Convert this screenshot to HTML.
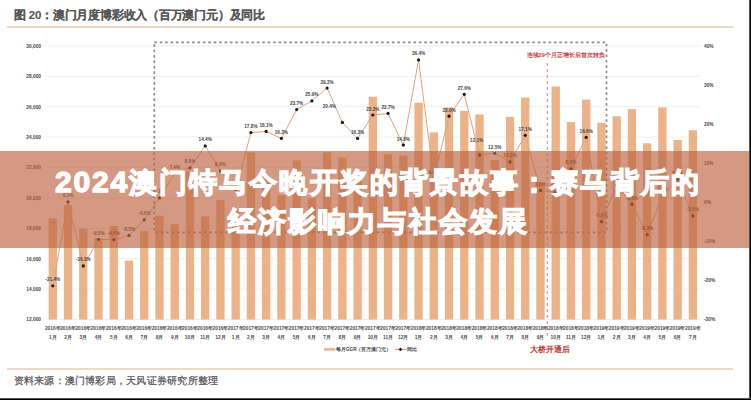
<!DOCTYPE html>
<html><head><meta charset="utf-8">
<style>
html,body{margin:0;padding:0;}
body{width:751px;height:400px;position:relative;overflow:hidden;background:#fff;font-family:"Liberation Sans",sans-serif;}
#frame{position:absolute;left:0;top:0;width:749px;height:398px;background:#fff;}
.bk-r{position:absolute;left:749px;top:0;width:2px;height:400px;background:linear-gradient(to right,#555 0,#555 1px,#000 1px);}
.bk-b{position:absolute;left:0;top:398px;width:751px;height:2px;background:linear-gradient(to bottom,#555 0,#555 1px,#000 1px);}
.title{position:absolute;left:14px;top:8px;font-size:11.5px;letter-spacing:-0.22px;font-weight:bold;color:#555;-webkit-text-stroke:0.1px #555;white-space:nowrap;}
.hl{position:absolute;left:6.5px;width:726.5px;height:2px;background:#ecd9c8;}
.src{position:absolute;left:13.6px;top:373.8px;font-size:10.4px;letter-spacing:0.23px;color:#555;-webkit-text-stroke:0.25px #555;white-space:nowrap;}
svg{position:absolute;left:0;top:0;}
.ax{font-size:4.8px;fill:#444;font-weight:bold;}
.lb{font-size:4.7px;fill:#444;font-weight:bold;}
.xl{font-size:4.8px;fill:#4a4a4a;font-weight:bold;}
.lg{font-size:4.6px;fill:#444;font-weight:bold;}
.red{font-size:5.6px;fill:#c8403c;font-weight:bold;}
.bridge{font-size:8.4px;fill:#c0392b;font-weight:bold;}
.band{position:absolute;left:0;top:151px;width:749px;height:97px;background:rgba(187,98,63,0.65);}
.bt{position:absolute;color:#fff;font-weight:bold;-webkit-text-stroke:1.3px #fff;font-size:28px;letter-spacing:2.1px;line-height:39px;white-space:nowrap;}
.bt .d{font-size:30px;letter-spacing:1.8px;}
</style></head><body>
<div id="frame"></div>
<div class="title">图 20：澳门月度博彩收入（百万澳门元）及同比</div>
<div class="hl" style="top:26.4px"></div>
<svg width="751" height="400" viewBox="0 0 751 400">
<line x1="47" y1="319.50" x2="700" y2="319.50" stroke="#ebebeb" stroke-width="0.8"/>
<line x1="47" y1="289.10" x2="700" y2="289.10" stroke="#ebebeb" stroke-width="0.8"/>
<line x1="47" y1="258.70" x2="700" y2="258.70" stroke="#ebebeb" stroke-width="0.8"/>
<line x1="47" y1="228.30" x2="700" y2="228.30" stroke="#ebebeb" stroke-width="0.8"/>
<line x1="47" y1="197.90" x2="700" y2="197.90" stroke="#ebebeb" stroke-width="0.8"/>
<line x1="47" y1="167.50" x2="700" y2="167.50" stroke="#ebebeb" stroke-width="0.8"/>
<line x1="47" y1="137.10" x2="700" y2="137.10" stroke="#ebebeb" stroke-width="0.8"/>
<line x1="47" y1="106.70" x2="700" y2="106.70" stroke="#ebebeb" stroke-width="0.8"/>
<line x1="47" y1="76.30" x2="700" y2="76.30" stroke="#ebebeb" stroke-width="0.8"/>
<line x1="47" y1="45.90" x2="700" y2="45.90" stroke="#ebebeb" stroke-width="0.8"/>
<text x="41" y="321.30" class="ax" text-anchor="end">12,000</text>
<text x="41" y="290.90" class="ax" text-anchor="end">14,000</text>
<text x="41" y="260.50" class="ax" text-anchor="end">16,000</text>
<text x="41" y="230.10" class="ax" text-anchor="end">18,000</text>
<text x="41" y="199.70" class="ax" text-anchor="end">20,000</text>
<text x="41" y="169.30" class="ax" text-anchor="end">22,000</text>
<text x="41" y="138.90" class="ax" text-anchor="end">24,000</text>
<text x="41" y="108.50" class="ax" text-anchor="end">26,000</text>
<text x="41" y="78.10" class="ax" text-anchor="end">28,000</text>
<text x="41" y="47.70" class="ax" text-anchor="end">30,000</text>
<text x="704" y="321.30" class="ax">-30%</text>
<text x="704" y="282.20" class="ax">-20%</text>
<text x="704" y="243.10" class="ax">-10%</text>
<text x="704" y="204.00" class="ax">0%</text>
<text x="704" y="164.90" class="ax">10%</text>
<text x="704" y="125.80" class="ax">20%</text>
<text x="704" y="86.70" class="ax">30%</text>
<text x="704" y="47.60" class="ax">40%</text>
<rect x="48.65" y="218.10" width="8.3" height="101.40" fill="#ecb288"/>
<rect x="63.89" y="205.20" width="8.3" height="114.30" fill="#ecb288"/>
<rect x="79.13" y="228.59" width="8.3" height="90.91" fill="#ecb288"/>
<rect x="94.37" y="238.32" width="8.3" height="81.18" fill="#ecb288"/>
<rect x="109.61" y="226.02" width="8.3" height="93.48" fill="#ecb288"/>
<rect x="124.85" y="260.51" width="8.3" height="58.99" fill="#ecb288"/>
<rect x="140.09" y="231.20" width="8.3" height="88.30" fill="#ecb288"/>
<rect x="155.33" y="215.70" width="8.3" height="103.80" fill="#ecb288"/>
<rect x="170.57" y="224.01" width="8.3" height="95.49" fill="#ecb288"/>
<rect x="185.81" y="171.10" width="8.3" height="148.40" fill="#ecb288"/>
<rect x="201.05" y="216.50" width="8.3" height="103.00" fill="#ecb288"/>
<rect x="216.29" y="200.15" width="8.3" height="119.35" fill="#ecb288"/>
<rect x="231.53" y="209.22" width="8.3" height="110.28" fill="#ecb288"/>
<rect x="246.77" y="152.39" width="8.3" height="167.11" fill="#ecb288"/>
<rect x="262.01" y="179.22" width="8.3" height="140.28" fill="#ecb288"/>
<rect x="277.25" y="195.26" width="8.3" height="124.24" fill="#ecb288"/>
<rect x="292.49" y="160.49" width="8.3" height="159.01" fill="#ecb288"/>
<rect x="307.73" y="198.05" width="8.3" height="121.45" fill="#ecb288"/>
<rect x="322.97" y="152.32" width="8.3" height="167.18" fill="#ecb288"/>
<rect x="338.21" y="157.39" width="8.3" height="162.11" fill="#ecb288"/>
<rect x="353.45" y="180.82" width="8.3" height="138.68" fill="#ecb288"/>
<rect x="368.69" y="96.76" width="8.3" height="222.74" fill="#ecb288"/>
<rect x="383.93" y="154.18" width="8.3" height="165.32" fill="#ecb288"/>
<rect x="399.17" y="155.58" width="8.3" height="163.92" fill="#ecb288"/>
<rect x="414.41" y="102.75" width="8.3" height="216.75" fill="#ecb288"/>
<rect x="429.65" y="132.39" width="8.3" height="187.11" fill="#ecb288"/>
<rect x="444.89" y="107.46" width="8.3" height="212.04" fill="#ecb288"/>
<rect x="460.13" y="110.80" width="8.3" height="208.70" fill="#ecb288"/>
<rect x="475.37" y="114.45" width="8.3" height="205.05" fill="#ecb288"/>
<rect x="490.61" y="160.05" width="8.3" height="159.45" fill="#ecb288"/>
<rect x="505.85" y="116.88" width="8.3" height="202.62" fill="#ecb288"/>
<rect x="521.09" y="97.58" width="8.3" height="221.92" fill="#ecb288"/>
<rect x="536.33" y="182.70" width="8.3" height="136.80" fill="#ecb288"/>
<rect x="551.57" y="86.48" width="8.3" height="233.02" fill="#ecb288"/>
<rect x="566.81" y="122.05" width="8.3" height="197.45" fill="#ecb288"/>
<rect x="582.05" y="99.56" width="8.3" height="219.94" fill="#ecb288"/>
<rect x="597.29" y="122.81" width="8.3" height="196.69" fill="#ecb288"/>
<rect x="612.53" y="116.28" width="8.3" height="203.22" fill="#ecb288"/>
<rect x="627.77" y="109.13" width="8.3" height="210.37" fill="#ecb288"/>
<rect x="643.01" y="143.33" width="8.3" height="176.17" fill="#ecb288"/>
<rect x="658.25" y="107.46" width="8.3" height="212.04" fill="#ecb288"/>
<rect x="673.49" y="139.99" width="8.3" height="179.51" fill="#ecb288"/>
<rect x="688.73" y="130.26" width="8.3" height="189.24" fill="#ecb288"/>
<rect x="154.3" y="42.3" width="452.2" height="190" fill="none" stroke="#8c8c8c" stroke-width="1.7" stroke-dasharray="2.6 2.8"/>
<line x1="547.4" y1="63" x2="547.4" y2="339" stroke="#dba3a8" stroke-width="1.4" stroke-dasharray="3 3"/>
<text x="565.7" y="57.2" class="red" text-anchor="middle">连续29个月正增长后首次转负</text>
<polyline points="52.80,285.87 68.04,201.81 83.28,265.93 98.52,239.34 113.76,239.74 129.00,235.44 144.24,219.80 159.48,197.90 174.72,173.27 189.96,167.79 205.20,145.90 220.44,170.92 235.68,190.08 250.92,132.60 266.16,131.43 281.40,138.47 296.64,109.53 311.88,100.93 327.12,88.03 342.36,122.44 357.60,138.47 372.84,115.01 388.08,113.44 403.32,145.11 418.56,59.88 433.80,178.74 449.04,116.18 464.28,94.28 479.52,154.89 494.76,153.32 510.00,161.93 525.24,135.34 540.48,190.47 555.72,192.03 570.96,168.97 586.20,137.29 601.44,221.75 616.68,185.00 631.92,204.16 647.16,234.65 662.40,195.55 677.64,179.13 692.88,215.88" fill="none" stroke="#e4a27c" stroke-width="1"/>
<circle cx="52.80" cy="285.87" r="1.6" fill="#1a1a1a"/>
<text x="52.80" y="281.37" class="lb" text-anchor="middle">-21.4%</text>
<circle cx="68.04" cy="201.81" r="1.6" fill="#1a1a1a"/>
<text x="68.04" y="197.31" class="lb" text-anchor="middle">0.1%</text>
<circle cx="83.28" cy="265.93" r="1.6" fill="#1a1a1a"/>
<text x="83.28" y="261.43" class="lb" text-anchor="middle">-16.3%</text>
<circle cx="98.52" cy="239.34" r="1.6" fill="#1a1a1a"/>
<text x="98.52" y="234.84" class="lb" text-anchor="middle">-9.5%</text>
<circle cx="113.76" cy="239.74" r="1.6" fill="#1a1a1a"/>
<text x="113.76" y="235.24" class="lb" text-anchor="middle">-9.6%</text>
<circle cx="129.00" cy="235.44" r="1.6" fill="#1a1a1a"/>
<text x="129.00" y="230.94" class="lb" text-anchor="middle">-8.5%</text>
<circle cx="144.24" cy="219.80" r="1.6" fill="#1a1a1a"/>
<text x="144.24" y="215.30" class="lb" text-anchor="middle">-4.5%</text>
<circle cx="159.48" cy="197.90" r="1.6" fill="#1a1a1a"/>
<text x="159.48" y="193.40" class="lb" text-anchor="middle">1.1%</text>
<circle cx="174.72" cy="173.27" r="1.6" fill="#1a1a1a"/>
<text x="174.72" y="168.77" class="lb" text-anchor="middle">7.4%</text>
<circle cx="189.96" cy="167.79" r="1.6" fill="#1a1a1a"/>
<text x="189.96" y="163.29" class="lb" text-anchor="middle">8.8%</text>
<circle cx="205.20" cy="145.90" r="1.6" fill="#1a1a1a"/>
<text x="205.20" y="141.40" class="lb" text-anchor="middle">14.4%</text>
<circle cx="220.44" cy="170.92" r="1.6" fill="#1a1a1a"/>
<text x="220.44" y="166.42" class="lb" text-anchor="middle">8.0%</text>
<circle cx="235.68" cy="190.08" r="1.6" fill="#1a1a1a"/>
<text x="235.68" y="185.58" class="lb" text-anchor="middle">3.1%</text>
<circle cx="250.92" cy="132.60" r="1.6" fill="#1a1a1a"/>
<text x="250.92" y="128.10" class="lb" text-anchor="middle">17.8%</text>
<circle cx="266.16" cy="131.43" r="1.6" fill="#1a1a1a"/>
<text x="266.16" y="126.93" class="lb" text-anchor="middle">18.1%</text>
<circle cx="281.40" cy="138.47" r="1.6" fill="#1a1a1a"/>
<text x="281.40" y="133.97" class="lb" text-anchor="middle">16.3%</text>
<circle cx="296.64" cy="109.53" r="1.6" fill="#1a1a1a"/>
<text x="296.64" y="105.03" class="lb" text-anchor="middle">23.7%</text>
<circle cx="311.88" cy="100.93" r="1.6" fill="#1a1a1a"/>
<text x="311.88" y="96.43" class="lb" text-anchor="middle">25.9%</text>
<circle cx="327.12" cy="88.03" r="1.6" fill="#1a1a1a"/>
<text x="327.12" y="83.53" class="lb" text-anchor="middle">29.2%</text>
<circle cx="342.36" cy="122.44" r="1.6" fill="#1a1a1a"/>
<text x="329.36" y="108.44" class="lb" text-anchor="middle">20.4%</text>
<circle cx="357.60" cy="138.47" r="1.6" fill="#1a1a1a"/>
<text x="357.60" y="133.97" class="lb" text-anchor="middle">16.3%</text>
<circle cx="372.84" cy="115.01" r="1.6" fill="#1a1a1a"/>
<text x="372.84" y="110.51" class="lb" text-anchor="middle">22.3%</text>
<circle cx="388.08" cy="113.44" r="1.6" fill="#1a1a1a"/>
<text x="388.08" y="108.94" class="lb" text-anchor="middle">22.7%</text>
<circle cx="403.32" cy="145.11" r="1.6" fill="#1a1a1a"/>
<text x="403.32" y="140.61" class="lb" text-anchor="middle">14.6%</text>
<circle cx="418.56" cy="59.88" r="1.6" fill="#1a1a1a"/>
<text x="418.56" y="55.38" class="lb" text-anchor="middle">36.4%</text>
<circle cx="433.80" cy="178.74" r="1.6" fill="#1a1a1a"/>
<text x="433.80" y="174.24" class="lb" text-anchor="middle">6.0%</text>
<circle cx="449.04" cy="116.18" r="1.6" fill="#1a1a1a"/>
<text x="449.04" y="111.68" class="lb" text-anchor="middle">22.0%</text>
<circle cx="464.28" cy="94.28" r="1.6" fill="#1a1a1a"/>
<text x="464.28" y="89.78" class="lb" text-anchor="middle">27.6%</text>
<circle cx="479.52" cy="154.89" r="1.6" fill="#1a1a1a"/>
<text x="476.52" y="142.39" class="lb" text-anchor="middle">12.1%</text>
<circle cx="494.76" cy="153.32" r="1.6" fill="#1a1a1a"/>
<text x="494.76" y="148.82" class="lb" text-anchor="middle">12.5%</text>
<circle cx="510.00" cy="161.93" r="1.6" fill="#1a1a1a"/>
<text x="510.00" y="157.43" class="lb" text-anchor="middle">10.3%</text>
<circle cx="525.24" cy="135.34" r="1.6" fill="#1a1a1a"/>
<text x="525.24" y="130.84" class="lb" text-anchor="middle">17.1%</text>
<circle cx="540.48" cy="190.47" r="1.6" fill="#1a1a1a"/>
<text x="540.48" y="185.97" class="lb" text-anchor="middle">3.0%</text>
<circle cx="555.72" cy="192.03" r="1.6" fill="#1a1a1a"/>
<text x="555.72" y="187.53" class="lb" text-anchor="middle">2.6%</text>
<circle cx="570.96" cy="168.97" r="1.6" fill="#1a1a1a"/>
<text x="570.96" y="164.47" class="lb" text-anchor="middle">8.5%</text>
<circle cx="586.20" cy="137.29" r="1.6" fill="#1a1a1a"/>
<text x="586.20" y="132.79" class="lb" text-anchor="middle">16.6%</text>
<circle cx="601.44" cy="221.75" r="1.6" fill="#1a1a1a"/>
<text x="601.44" y="217.25" class="lb" text-anchor="middle">-5.0%</text>
<circle cx="616.68" cy="185.00" r="1.6" fill="#1a1a1a"/>
<text x="616.68" y="180.50" class="lb" text-anchor="middle">4.4%</text>
<circle cx="631.92" cy="204.16" r="1.6" fill="#1a1a1a"/>
<text x="631.92" y="199.66" class="lb" text-anchor="middle">-0.5%</text>
<circle cx="647.16" cy="234.65" r="1.6" fill="#1a1a1a"/>
<text x="647.16" y="230.15" class="lb" text-anchor="middle">-8.3%</text>
<circle cx="662.40" cy="195.55" r="1.6" fill="#1a1a1a"/>
<text x="662.40" y="191.05" class="lb" text-anchor="middle">1.7%</text>
<circle cx="677.64" cy="179.13" r="1.6" fill="#1a1a1a"/>
<text x="677.64" y="174.63" class="lb" text-anchor="middle">5.9%</text>
<circle cx="692.88" cy="215.88" r="1.6" fill="#1a1a1a"/>
<text x="692.88" y="211.38" class="lb" text-anchor="middle">-3.5%</text>
<text x="52.80" y="329.5" class="xl" text-anchor="middle">2016年</text>
<text x="52.80" y="338.8" class="xl" text-anchor="middle">1月</text>
<text x="68.04" y="329.5" class="xl" text-anchor="middle">2016年</text>
<text x="68.04" y="338.8" class="xl" text-anchor="middle">2月</text>
<text x="83.28" y="329.5" class="xl" text-anchor="middle">2016年</text>
<text x="83.28" y="338.8" class="xl" text-anchor="middle">3月</text>
<text x="98.52" y="329.5" class="xl" text-anchor="middle">2016年</text>
<text x="98.52" y="338.8" class="xl" text-anchor="middle">4月</text>
<text x="113.76" y="329.5" class="xl" text-anchor="middle">2016年</text>
<text x="113.76" y="338.8" class="xl" text-anchor="middle">5月</text>
<text x="129.00" y="329.5" class="xl" text-anchor="middle">2016年</text>
<text x="129.00" y="338.8" class="xl" text-anchor="middle">6月</text>
<text x="144.24" y="329.5" class="xl" text-anchor="middle">2016年</text>
<text x="144.24" y="338.8" class="xl" text-anchor="middle">7月</text>
<text x="159.48" y="329.5" class="xl" text-anchor="middle">2016年</text>
<text x="159.48" y="338.8" class="xl" text-anchor="middle">8月</text>
<text x="174.72" y="329.5" class="xl" text-anchor="middle">2016年</text>
<text x="174.72" y="338.8" class="xl" text-anchor="middle">9月</text>
<text x="189.96" y="329.5" class="xl" text-anchor="middle">2016年</text>
<text x="189.96" y="338.8" class="xl" text-anchor="middle">10月</text>
<text x="205.20" y="329.5" class="xl" text-anchor="middle">2016年</text>
<text x="205.20" y="338.8" class="xl" text-anchor="middle">11月</text>
<text x="220.44" y="329.5" class="xl" text-anchor="middle">2016年</text>
<text x="220.44" y="338.8" class="xl" text-anchor="middle">12月</text>
<text x="235.68" y="329.5" class="xl" text-anchor="middle">2017年</text>
<text x="235.68" y="338.8" class="xl" text-anchor="middle">1月</text>
<text x="250.92" y="329.5" class="xl" text-anchor="middle">2017年</text>
<text x="250.92" y="338.8" class="xl" text-anchor="middle">2月</text>
<text x="266.16" y="329.5" class="xl" text-anchor="middle">2017年</text>
<text x="266.16" y="338.8" class="xl" text-anchor="middle">3月</text>
<text x="281.40" y="329.5" class="xl" text-anchor="middle">2017年</text>
<text x="281.40" y="338.8" class="xl" text-anchor="middle">4月</text>
<text x="296.64" y="329.5" class="xl" text-anchor="middle">2017年</text>
<text x="296.64" y="338.8" class="xl" text-anchor="middle">5月</text>
<text x="311.88" y="329.5" class="xl" text-anchor="middle">2017年</text>
<text x="311.88" y="338.8" class="xl" text-anchor="middle">6月</text>
<text x="327.12" y="329.5" class="xl" text-anchor="middle">2017年</text>
<text x="327.12" y="338.8" class="xl" text-anchor="middle">7月</text>
<text x="342.36" y="329.5" class="xl" text-anchor="middle">2017年</text>
<text x="342.36" y="338.8" class="xl" text-anchor="middle">8月</text>
<text x="357.60" y="329.5" class="xl" text-anchor="middle">2017年</text>
<text x="357.60" y="338.8" class="xl" text-anchor="middle">9月</text>
<text x="372.84" y="329.5" class="xl" text-anchor="middle">2017年</text>
<text x="372.84" y="338.8" class="xl" text-anchor="middle">10月</text>
<text x="388.08" y="329.5" class="xl" text-anchor="middle">2017年</text>
<text x="388.08" y="338.8" class="xl" text-anchor="middle">11月</text>
<text x="403.32" y="329.5" class="xl" text-anchor="middle">2017年</text>
<text x="403.32" y="338.8" class="xl" text-anchor="middle">12月</text>
<text x="418.56" y="329.5" class="xl" text-anchor="middle">2018年</text>
<text x="418.56" y="338.8" class="xl" text-anchor="middle">1月</text>
<text x="433.80" y="329.5" class="xl" text-anchor="middle">2018年</text>
<text x="433.80" y="338.8" class="xl" text-anchor="middle">2月</text>
<text x="449.04" y="329.5" class="xl" text-anchor="middle">2018年</text>
<text x="449.04" y="338.8" class="xl" text-anchor="middle">3月</text>
<text x="464.28" y="329.5" class="xl" text-anchor="middle">2018年</text>
<text x="464.28" y="338.8" class="xl" text-anchor="middle">4月</text>
<text x="479.52" y="329.5" class="xl" text-anchor="middle">2018年</text>
<text x="479.52" y="338.8" class="xl" text-anchor="middle">5月</text>
<text x="494.76" y="329.5" class="xl" text-anchor="middle">2018年</text>
<text x="494.76" y="338.8" class="xl" text-anchor="middle">6月</text>
<text x="510.00" y="329.5" class="xl" text-anchor="middle">2018年</text>
<text x="510.00" y="338.8" class="xl" text-anchor="middle">7月</text>
<text x="525.24" y="329.5" class="xl" text-anchor="middle">2018年</text>
<text x="525.24" y="338.8" class="xl" text-anchor="middle">8月</text>
<text x="540.48" y="329.5" class="xl" text-anchor="middle">2018年</text>
<text x="540.48" y="338.8" class="xl" text-anchor="middle">9月</text>
<text x="555.72" y="329.5" class="xl" text-anchor="middle">2018年</text>
<text x="555.72" y="338.8" class="xl" text-anchor="middle">10月</text>
<text x="570.96" y="329.5" class="xl" text-anchor="middle">2018年</text>
<text x="570.96" y="338.8" class="xl" text-anchor="middle">11月</text>
<text x="586.20" y="329.5" class="xl" text-anchor="middle">2018年</text>
<text x="586.20" y="338.8" class="xl" text-anchor="middle">12月</text>
<text x="601.44" y="329.5" class="xl" text-anchor="middle">2019年</text>
<text x="601.44" y="338.8" class="xl" text-anchor="middle">1月</text>
<text x="616.68" y="329.5" class="xl" text-anchor="middle">2019年</text>
<text x="616.68" y="338.8" class="xl" text-anchor="middle">2月</text>
<text x="631.92" y="329.5" class="xl" text-anchor="middle">2019年</text>
<text x="631.92" y="338.8" class="xl" text-anchor="middle">3月</text>
<text x="647.16" y="329.5" class="xl" text-anchor="middle">2019年</text>
<text x="647.16" y="338.8" class="xl" text-anchor="middle">4月</text>
<text x="662.40" y="329.5" class="xl" text-anchor="middle">2019年</text>
<text x="662.40" y="338.8" class="xl" text-anchor="middle">5月</text>
<text x="677.64" y="329.5" class="xl" text-anchor="middle">2019年</text>
<text x="677.64" y="338.8" class="xl" text-anchor="middle">6月</text>
<text x="692.88" y="329.5" class="xl" text-anchor="middle">2019年</text>
<text x="692.88" y="338.8" class="xl" text-anchor="middle">7月</text>
<rect x="324" y="348.2" width="11.3" height="2.4" fill="#ecb288"/>
<text x="336" y="351.2" class="lg">每月GGR（百万澳门元）</text>
<line x1="395.2" y1="349.4" x2="406.5" y2="349.4" stroke="#e88b55" stroke-width="1"/>
<path d="M400.5 347.6 L402.3 349.4 L400.5 351.2 L398.7 349.4Z" fill="#1a1a1a"/>
<text x="407.2" y="351.2" class="lg">同比</text>
<text x="550.3" y="351.6" class="bridge" text-anchor="middle">大桥开通后</text>
</svg>
<div class="hl" style="top:368.2px"></div>
<div class="src">资料来源：澳门博彩局，天风证券研究所整理</div>
<div class="band"></div>
<div class="bt" style="top:162px;left:55px"><span class="d">2024</span>澳门特马今晚开奖的背景故事：赛马背后的</div>
<div class="bt" style="top:201.7px;left:228px">经济影响力与社会发展</div>
<div class="bk-r"></div><div class="bk-b"></div>
</body></html>
